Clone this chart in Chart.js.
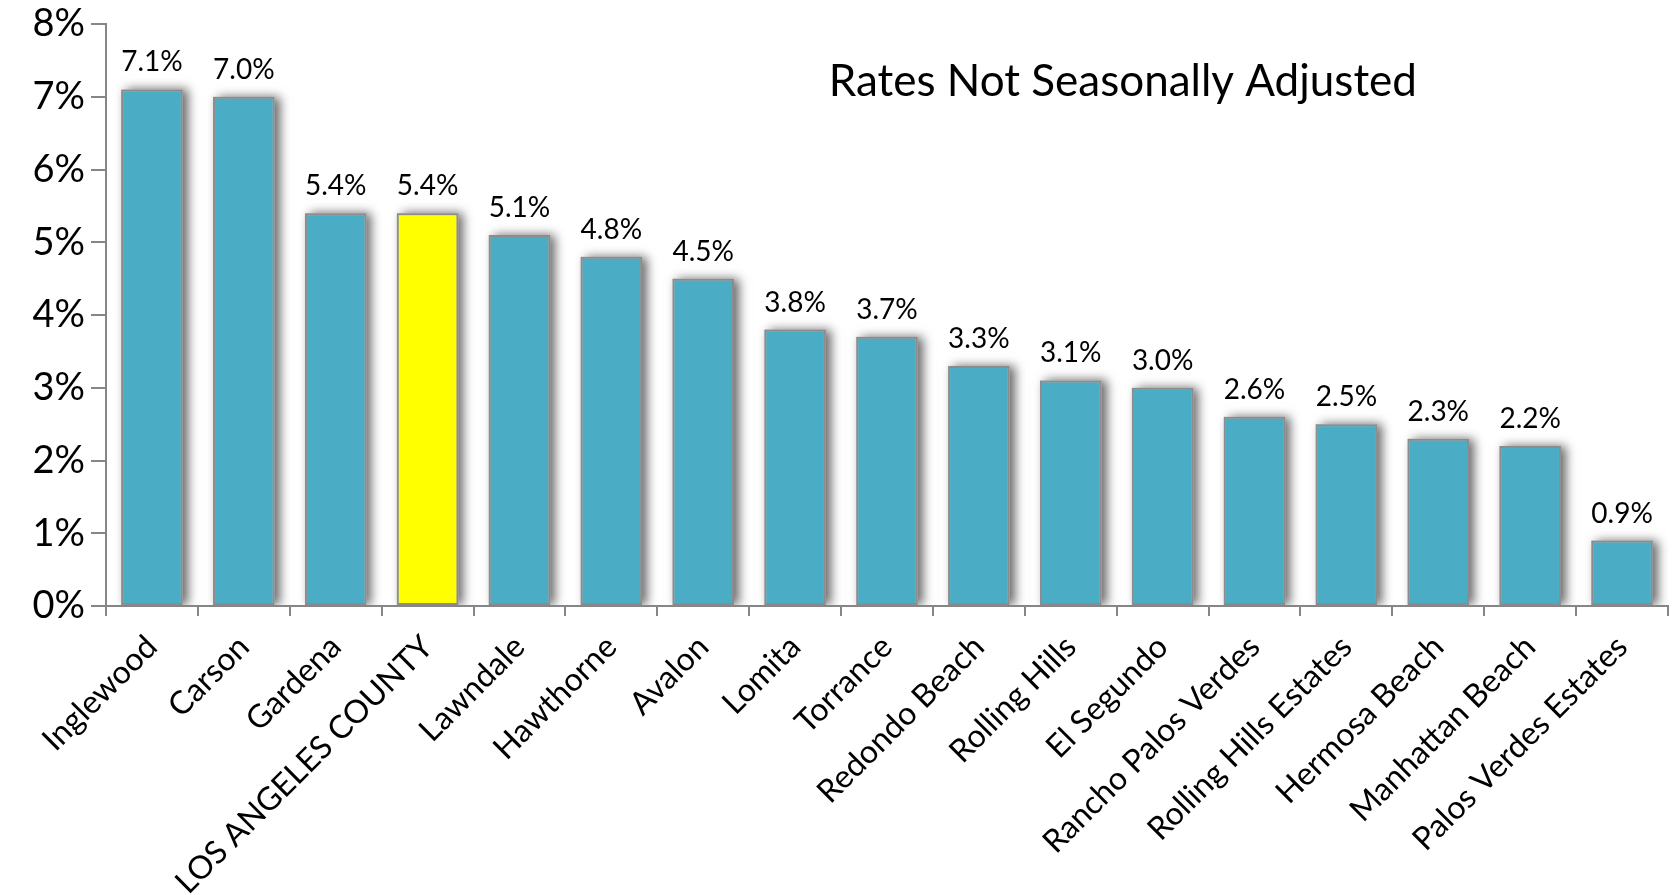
<!DOCTYPE html>
<html>
<head>
<meta charset="utf-8">
<script src="https://cdn.jsdelivr.net/npm/chart.js@4.4.1/dist/chart.umd.min.js"></script>
<style>
  html, body { margin: 0; padding: 0; background: #fff; }
  #wrap { width: 1675px; height: 895px; }
</style>
</head>
<body>
<div id="wrap"><canvas id="rates"></canvas></div>
<script>
const cities = ["Inglewood", "Carson", "Gardena", "LOS ANGELES COUNTY", "Lawndale", "Hawthorne", "Avalon",
  "Lomita", "Torrance", "Redondo Beach", "Rolling Hills", "El Segundo", "Rancho Palos Verdes",
  "Rolling Hills Estates", "Hermosa Beach", "Manhattan Beach", "Palos Verdes Estates"];
const rates = [7.1, 7.0, 5.4, 5.4, 5.1, 4.8, 4.5, 3.8, 3.7, 3.3, 3.1, 3.0, 2.6, 2.5, 2.3, 2.2, 0.9];
const countyName = "LOS ANGELES COUNTY";
const chartTitle = "Rates Not Seasonally Adjusted";

const FONT = "Lato, 'Open Sans', sans-serif";
const TEAL = "#4bacc6";
const AXIS = "#868686";

// soft drop shadow behind the bars (the bar element clips its own drawing,
// so the shadow is cast by a rect painted underneath each bar)
const barShadow = {
  id: "barShadow",
  beforeDatasetDraw(chart) {
    const ctx = chart.ctx;
    const area = chart.chartArea;
    ctx.save();
    ctx.beginPath();
    ctx.rect(area.left + 1, 0, area.right - area.left, area.bottom - 1);
    ctx.clip();
    ctx.shadowColor = "rgba(0,0,0,0.6)";
    ctx.shadowBlur = 10;
    ctx.shadowOffsetX = 5;
    ctx.shadowOffsetY = 0;
    ctx.fillStyle = "#bbb";
    chart.getDatasetMeta(0).data.forEach((bar) => {
      const { x, y, base, width } = bar.getProps(["x", "y", "base", "width"]);
      ctx.fillRect(x - width / 2, y, width, base - y);
    });
    ctx.restore();
  },
};

// value labels above each bar
const valueLabels = {
  id: "valueLabels",
  afterDatasetsDraw(chart) {
    const ctx = chart.ctx;
    const meta = chart.getDatasetMeta(0);
    ctx.save();
    ctx.font = `28px ${FONT}`;
    ctx.fillStyle = "#000";
    ctx.textAlign = "center";
    ctx.textBaseline = "alphabetic";
    meta.data.forEach((bar, i) => {
      ctx.fillText(rates[i].toFixed(1) + "%", bar.x, bar.y - 18);
    });
    ctx.restore();
  },
};

const titleText = {
  id: "titleText",
  afterDraw(chart) {
    const ctx = chart.ctx;
    const { left, right, top } = chart.chartArea;
    ctx.save();
    ctx.font = `44px ${FONT}`;
    ctx.fillStyle = "#000";
    ctx.textAlign = "center";
    ctx.textBaseline = "middle";
    ctx.fillText(chartTitle, left + (right - left) * 0.651, top + 58);
    ctx.restore();
  },
};

new Chart(document.getElementById("rates"), {
  type: "bar",
  data: {
    labels: cities,
    datasets: [{
      data: rates,
      backgroundColor: cities.map((c) => (c === countyName ? "#ffff00" : TEAL)),
      borderColor: "#8c8c8c",
      borderWidth: 2,
      borderSkipped: false,
      barPercentage: 0.67,
      categoryPercentage: 1,
    }],
  },
  options: {
    responsive: true,
    maintainAspectRatio: false,
    animation: false,
    layout: { padding: { top: 0, right: 7, left: 0, bottom: 0 } },
    plugins: { legend: { display: false }, tooltip: { enabled: false } },
    scales: {
      x: {
        offset: true,
        afterFit: (s) => { s.height = 289; },
        grid: { offset: true, drawOnChartArea: false, color: AXIS, lineWidth: 2, tickLength: 10 },
        border: { color: AXIS, width: 2 },
        ticks: { color: "#000", font: { family: FONT, size: 32 }, maxRotation: 45, minRotation: 45, autoSkip: false, padding: 12 },
      },
      y: {
        min: 0,
        max: 8,
        afterFit: (s) => { s.width = 106; s.paddingTop = 24; },
        grid: { drawOnChartArea: false, color: AXIS, lineWidth: 2, tickLength: 15 },
        border: { color: AXIS, width: 2 },
        ticks: { stepSize: 1, color: "#000", font: { family: FONT, size: 38 }, padding: 6, callback: (v) => v + "%" },
      },
    },
  },
  plugins: [barShadow, valueLabels, titleText],
});
</script>
</body>
</html>
